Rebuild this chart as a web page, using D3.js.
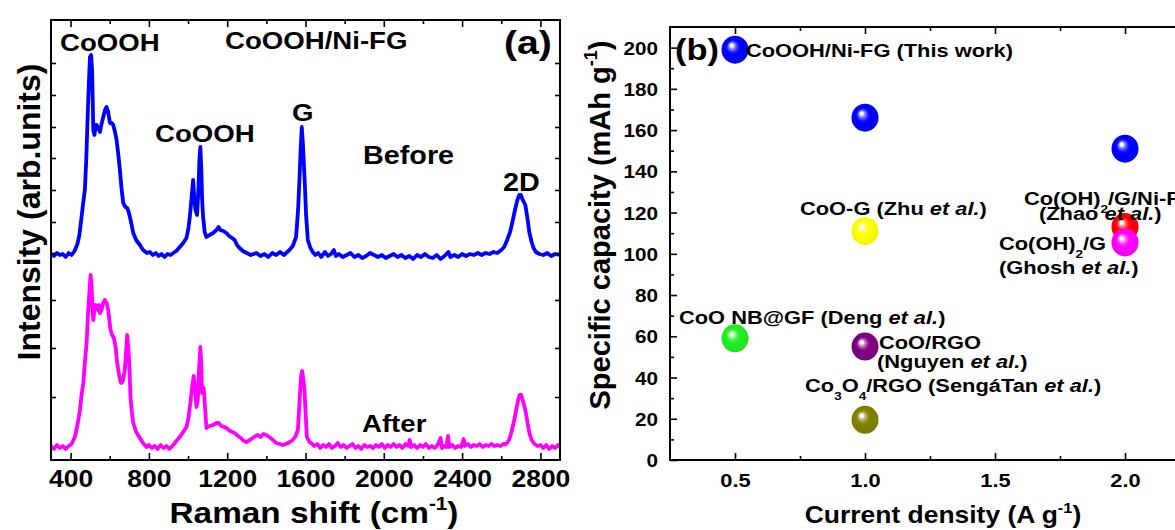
<!DOCTYPE html>
<html>
<head>
<meta charset="utf-8">
<script src="https://cdn.jsdelivr.net/npm/d3@7"></script>
<style>
  body { margin: 0; background: #fff; }
  svg { display: block; font-family: "Liberation Sans", Arial, sans-serif; font-weight: bold; }
</style>
</head>
<body>
<svg id="fig" width="1175" height="530"></svg>
<script>
// (a) Raman spectra: [Raman shift (cm-1), intensity (a.u.)]
const before = [
  [300,206],[315,204],[330,207],[345,205],[360,206],[375,203],[390,207],[405,205],[420,209],[435,216],
  [445,225],[456,243],[465,258],[473,270],[480,300],[485,330],[492,370],[499,403],[505,405],[510,390],
  [516,330],[522,325],[528,335],[533,335],[540,332],[550,328],[558,336],[567,343],[576,350],[584,353],
  [592,348],[601,337],[610,337],[618,335],[627,328],[635,320],[644,305],[652,290],[660,272],[669,257],
  [680,253],[689,252],[697,248],[703,243],[712,235],[720,227],[735,220],[754,215],[770,210],[790,207],
  [805,208],[820,205],[835,207],[850,204],[865,206],[880,203],[895,206],[910,205],[925,207],[940,209],
  [958,213],[975,217],[992,222],[1002,232],[1009,243],[1018,262],[1026,280],[1032,262],[1038,250],[1046,245],
  [1053,270],[1058,300],[1063,313],[1068,290],[1072,260],[1077,243],[1085,228],[1094,223],[1110,225],[1128,227],
  [1145,230],[1156,233],[1165,230],[1180,229],[1196,227],[1210,224],[1225,222],[1238,220],[1250,215],[1263,212],
  [1280,209],[1300,207],[1320,205],[1349,207],[1370,204],[1390,206],[1410,203],[1430,207],[1450,205],[1470,208],
  [1490,205],[1518,210],[1535,214],[1552,223],[1562,250],[1569,280],[1575,310],[1581,333],[1587,315],[1595,283],
  [1603,245],[1612,220],[1625,212],[1637,208],[1650,205],[1665,207],[1680,203],[1700,208],[1715,204],[1730,206],
  [1745,210],[1755,204],[1770,206],[1790,203],[1810,205],[1830,207],[1850,203],[1870,205],[1890,202],[1910,204],
  [1930,207],[1950,205],[1970,203],[1990,205],[2010,202],[2030,204],[2050,206],[2070,203],[2090,205],[2110,202],
  [2130,204],[2150,201],[2170,205],[2190,203],[2210,206],[2230,203],[2250,202],[2270,205],[2290,201],[2310,204],
  [2330,208],[2340,203],[2360,205],[2380,203],[2400,206],[2420,204],[2440,206],[2460,205],[2480,207],[2500,205],
  [2520,207],[2540,206],[2560,208],[2580,207],[2600,210],[2615,213],[2630,220],[2645,228],[2657,238],[2670,250],
  [2682,260],[2692,265],[2700,265],[2710,260],[2723,255],[2735,240],[2743,228],[2755,218],[2765,212],[2777,208],
  [2795,206],[2815,205],[2835,207],[2855,204],[2875,206],[2900,205]
];
const after = [
  [300,14],[315,11],[330,15],[345,12],[360,14],[375,11],[390,14],[405,16],[422,23],[435,35],
  [448,50],[456,65],[465,77],[474,100],[482,117],[490,150],[497,170],[502,185],[507,175],[512,150],
  [516,140],[522,150],[528,155],[533,153],[540,150],[545,155],[550,147],[558,150],[566,157],[575,160],
  [584,157],[592,150],[598,140],[604,130],[612,125],[621,122],[630,113],[638,97],[648,85],[655,78],
  [660,77],[668,80],[677,90],[684,110],[689,125],[694,115],[699,100],[706,63],[713,48],[720,37],
  [735,28],[754,22],[770,17],[788,13],[800,15],[815,12],[830,14],[845,11],[860,15],[875,12],
  [890,14],[905,11],[924,15],[940,19],[958,23],[975,28],[992,33],[1002,42],[1012,57],[1020,72],
  [1029,84],[1036,72],[1043,53],[1050,60],[1056,90],[1063,113],[1068,95],[1071,67],[1076,72],[1080,72],
  [1086,55],[1094,32],[1110,34],[1128,35],[1145,37],[1156,37],[1170,34],[1185,33],[1196,32],[1215,29],
  [1238,27],[1255,24],[1270,22],[1285,19],[1298,18],[1315,20],[1330,22],[1345,24],[1357,25],[1370,23],
  [1385,26],[1400,25],[1415,23],[1434,20],[1450,17],[1470,16],[1484,15],[1500,16],[1520,18],[1535,20],
  [1550,24],[1561,30],[1567,50],[1573,70],[1578,85],[1583,89],[1589,80],[1595,70],[1601,45],[1607,23],
  [1620,18],[1629,17],[1645,14],[1660,16],[1675,12],[1690,15],[1705,13],[1720,16],[1735,12],[1750,14],
  [1765,17],[1780,13],[1795,15],[1810,12],[1825,14],[1840,16],[1855,12],[1870,14],[1885,11],[1900,15],
  [1915,13],[1930,14],[1945,12],[1960,15],[1975,13],[1990,16],[2005,12],[2020,15],[2035,13],[2050,16],
  [2065,13],[2080,15],[2095,12],[2110,16],[2125,14],[2132,20],[2140,13],[2155,15],[2170,12],[2185,15],
  [2200,13],[2215,16],[2230,12],[2245,14],[2260,12],[2275,15],[2290,22],[2297,12],[2310,14],[2320,13],
  [2328,24],[2335,13],[2350,15],[2365,12],[2380,14],[2395,13],[2408,21],[2415,14],[2430,16],[2445,13],
  [2460,15],[2475,14],[2490,16],[2505,13],[2520,15],[2535,14],[2550,16],[2565,14],[2580,15],[2595,14],
  [2610,16],[2625,16],[2640,20],[2652,28],[2664,38],[2676,50],[2686,60],[2694,65],[2702,65],[2712,58],
  [2723,50],[2735,36],[2745,26],[2755,20],[2770,16],[2785,14],[2800,15],[2815,12],[2830,15],[2845,11],
  [2860,14],[2875,12],[2890,15],[2900,13]
];
const ramanTicks = [400, 800, 1200, 1600, 2000, 2400, 2800];
const ramanMinor = [600, 1000, 1400, 1800, 2200, 2600];
const intensityTicks = [63, 112, 160, 207, 238, 270, 302, 333, 365, 397];

// (b) specific capacity vs current density
const density  = [0.5, 1.0, 2.0, 1.0, 2.0, 2.0, 0.5, 1.0, 1.0];
const capacity = [199, 166, 151, 111, 113, 105.5, 59, 55, 19.5];
const material = [
  "CoOOH/Ni-FG (This work)", "", "",
  "CoO-G (Zhu *et al.*)",
  "Co(OH)_{2}/G/Ni-F\n(Zhao *et al.*)",
  "Co(OH)_{2}/G\n(Ghosh *et al.*)",
  "CoO NB@GF (Deng *et al.*)",
  "CoO/RGO\n(Nguyen *et al.*)",
  "Co_{3}O_{4}/RGO (SengáTan *et al.*)"
];
const capTicks = [0, 20, 40, 60, 80, 100, 120, 140, 160, 180, 200];
const capMinor = [10, 30, 50, 70, 90, 110, 130, 150, 170, 190];
const densityTicks = [0.5, 1.0, 1.5, 2.0];
const densityMinor = [0.75, 1.25, 1.75];

// ---------------------------------------------------------------
const svg = d3.select("#fig");
const SX = 1.15; // glyphs in the figure are wider than Arial

function rich(g, str, x, y, size, anchor, rot) {
  const t = g.append("text")
    .attr("transform", rot ? `translate(${x},${y}) rotate(${rot})` : `translate(${x},${y}) scale(${SX},1)`)
    .attr("font-size", size)
    .attr("text-anchor", anchor || "start");
  let shift = 0;
  str.split(/(_\{[^}]*\}|\^\{[^}]*\}|\*[^*]*\*)/).filter(s => s).forEach(s => {
    let txt = s, fs = size, target = 0, italic = false;
    if (s.startsWith("_{")) { txt = s.slice(2, -1); fs = size * 0.62; target = size * 0.42; }
    else if (s.startsWith("^{")) { txt = s.slice(2, -1); fs = size * 0.62; target = -size * 0.45; }
    else if (s.startsWith("*")) { txt = s.slice(1, -1); italic = true; }
    const sp = t.append("tspan").text(txt).attr("font-size", fs).attr("dy", target - shift);
    if (italic) sp.attr("font-style", "italic");
    shift = target;
  });
  return t;
}

function styleAxis(g) {
  g.select(".domain").remove();
  g.selectAll("line").attr("stroke", "#000").attr("stroke-width", 1.6);
}

// ---------------- panel (a) ----------------
const A = { l: 51, r: 560, t: 20, b: 460 };
const xa = d3.scaleLinear().domain([300, 2900]).range([A.l, A.r]);
const ya = d3.scaleLinear().domain([0, 440]).range([A.b, A.t]);
const ga = svg.append("g");

const line = d3.line().x(d => xa(d[0])).y(d => ya(d[1]));
ga.append("path").datum(before).attr("d", line)
  .attr("fill", "none").attr("stroke", "#0000ff").attr("stroke-width", 3.8).attr("stroke-linejoin", "round");
ga.append("path").datum(after).attr("d", line)
  .attr("fill", "none").attr("stroke", "#ff00ff").attr("stroke-width", 3.8).attr("stroke-linejoin", "round");

// axes (ticks inward)
ga.append("g").attr("transform", `translate(0,${A.b})`)
  .call(d3.axisBottom(xa).tickValues(ramanTicks).tickSize(-7).tickPadding(13).tickFormat(d3.format("d")))
  .call(styleAxis)
  .call(g => g.selectAll("text").attr("fill", "#000").attr("font-size", 23)
    .attr("font-family", "Liberation Sans, Arial, sans-serif").attr("font-weight", "bold")
    .attr("transform", `scale(${SX},1)`).attr("y", 27).attr("dy", 0));
ga.append("g").attr("transform", `translate(0,${A.b})`)
  .call(d3.axisBottom(xa).tickValues(ramanMinor).tickSize(-4).tickFormat("")).call(styleAxis);
ga.append("g").attr("transform", `translate(0,${A.t})`)
  .call(d3.axisTop(xa).tickValues(ramanTicks).tickSize(-7).tickFormat("")).call(styleAxis);
ga.append("g").attr("transform", `translate(0,${A.t})`)
  .call(d3.axisTop(xa).tickValues(ramanMinor).tickSize(-4).tickFormat("")).call(styleAxis);
ga.append("g").attr("transform", `translate(${A.l},0)`)
  .call(d3.axisLeft(ya).tickValues(intensityTicks).tickSize(-5).tickFormat("")).call(styleAxis);
ga.append("g").attr("transform", `translate(${A.r},0)`)
  .call(d3.axisRight(ya).tickValues(intensityTicks).tickSize(-5).tickFormat("")).call(styleAxis);
ga.append("rect").attr("x", A.l).attr("y", A.t).attr("width", A.r - A.l).attr("height", A.b - A.t)
  .attr("fill", "none").attr("stroke", "#000").attr("stroke-width", 2);

// annotations
rich(ga, "CoOOH", 60, 51, 24);
rich(ga, "CoOOH/Ni-FG", 225, 49, 24);
rich(ga, "(a)", 504, 54, 34);
rich(ga, "CoOOH", 155, 142, 24);
rich(ga, "G", 292, 121, 24);
rich(ga, "Before", 363, 164, 25);
rich(ga, "2D", 503, 191, 25);
rich(ga, "After", 362, 432, 24);
rich(ga, "Raman shift (cm^{-1})", 314, 523, 29, "middle");
rich(ga, "Intensity (arb.units)", 40, 212, 32, "middle", -90);

// ---------------- panel (b) ----------------
const B = { l: 670, r: 1190, t: 27, b: 460 };
const xb = d3.scaleLinear().domain([0.25, 2.25]).range([B.l, B.r]);
const yb = d3.scaleLinear().domain([0, 210]).range([B.b, B.t]);
const gb = svg.append("g");

gb.append("g").attr("transform", `translate(0,${B.b})`)
  .call(d3.axisBottom(xb).tickValues(densityTicks).tickSize(-7).tickFormat(d3.format(".1f")))
  .call(styleAxis)
  .call(g => g.selectAll("text").attr("fill", "#000").attr("font-size", 19)
    .attr("font-family", "Liberation Sans, Arial, sans-serif").attr("font-weight", "bold")
    .attr("transform", `scale(${SX},1)`).attr("y", 27).attr("dy", 0));
gb.append("g").attr("transform", `translate(0,${B.b})`)
  .call(d3.axisBottom(xb).tickValues(densityMinor).tickSize(-4).tickFormat("")).call(styleAxis);
gb.append("g").attr("transform", `translate(0,${B.t})`)
  .call(d3.axisTop(xb).tickValues(densityTicks).tickSize(-7).tickFormat("")).call(styleAxis);
gb.append("g").attr("transform", `translate(0,${B.t})`)
  .call(d3.axisTop(xb).tickValues(densityMinor).tickSize(-4).tickFormat("")).call(styleAxis);
gb.append("g").attr("transform", `translate(${B.l},0)`)
  .call(d3.axisLeft(yb).tickValues(capTicks).tickSize(-7).tickPadding(10).tickFormat(d3.format("d")))
  .call(styleAxis)
  .call(g => g.selectAll("text").attr("fill", "#000").attr("font-size", 18)
    .attr("font-family", "Liberation Sans, Arial, sans-serif").attr("font-weight", "bold")
    .attr("transform", `translate(-12,0) scale(${SX},1)`).attr("x", 0).attr("dy", "0.36em"));
gb.append("g").attr("transform", `translate(${B.l},0)`)
  .call(d3.axisLeft(yb).tickValues(capMinor).tickSize(-4).tickFormat("")).call(styleAxis);
gb.append("rect").attr("x", B.l).attr("y", B.t).attr("width", B.r - B.l).attr("height", B.b - B.t)
  .attr("fill", "none").attr("stroke", "#000").attr("stroke-width", 2);

// shiny balls
const ballColor = ["#0000ff", "#0000ff", "#0000ff", "#ffff00", "#ff0000", "#ff00ff", "#22ee22", "#800080", "#808000"];
const defs = svg.append("defs");
ballColor.forEach((c, i) => {
  const gr = defs.append("radialGradient").attr("id", "ball" + i)
    .attr("cx", 0.5).attr("cy", 0.5).attr("r", 0.55).attr("fx", 0.36).attr("fy", 0.33);
  const light = d3.interpolateRgb(c, "#ffffff");
  gr.append("stop").attr("offset", 0).attr("stop-color", "#ffffff");
  gr.append("stop").attr("offset", 0.1).attr("stop-color", "#ffffff");
  gr.append("stop").attr("offset", 0.2).attr("stop-color", light(0.55));
  gr.append("stop").attr("offset", 0.38).attr("stop-color", light(0.1));
  gr.append("stop").attr("offset", 0.5).attr("stop-color", c);
  gr.append("stop").attr("offset", 1).attr("stop-color", d3.color(c).darker(0.15));
});
gb.selectAll("ellipse.ball").data(density).join("ellipse").attr("class", "ball")
  .attr("cx", (d, i) => xb(d)).attr("cy", (d, i) => yb(capacity[i]))
  .attr("rx", 13.5).attr("ry", 14)
  .attr("fill", (d, i) => `url(#ball${i})`);

// label placement: [dx, dy of first baseline, line height, dx of second line]
const labelPos = [
  [11, 7, 0, 0], null, null,
  [-65, -16, 0, 0],
  [-101, -22, 15, 15],
  [-126, 8, 24, 0],
  [-56, -14, 0, 0],
  [14, 2, 19, -2],
  [-60, -28, 0, 0]
];
material.forEach((m, i) => {
  if (!m) return;
  const p = labelPos[i], cx = xb(density[i]), cy = yb(capacity[i]);
  m.split("\n").forEach((ln, k) => {
    rich(gb, ln, cx + p[0] + (k ? p[3] : 0), cy + p[1] + k * p[2], 19);
  });
});

rich(gb, "(b)", 675, 60, 30);
rich(gb, "Current density (A g^{-1})", 943, 523, 23, "middle");
rich(gb, "Specific capacity (mAh g^{-1})", 610, 225, 29, "middle", -90);
</script>
</body>
</html>
